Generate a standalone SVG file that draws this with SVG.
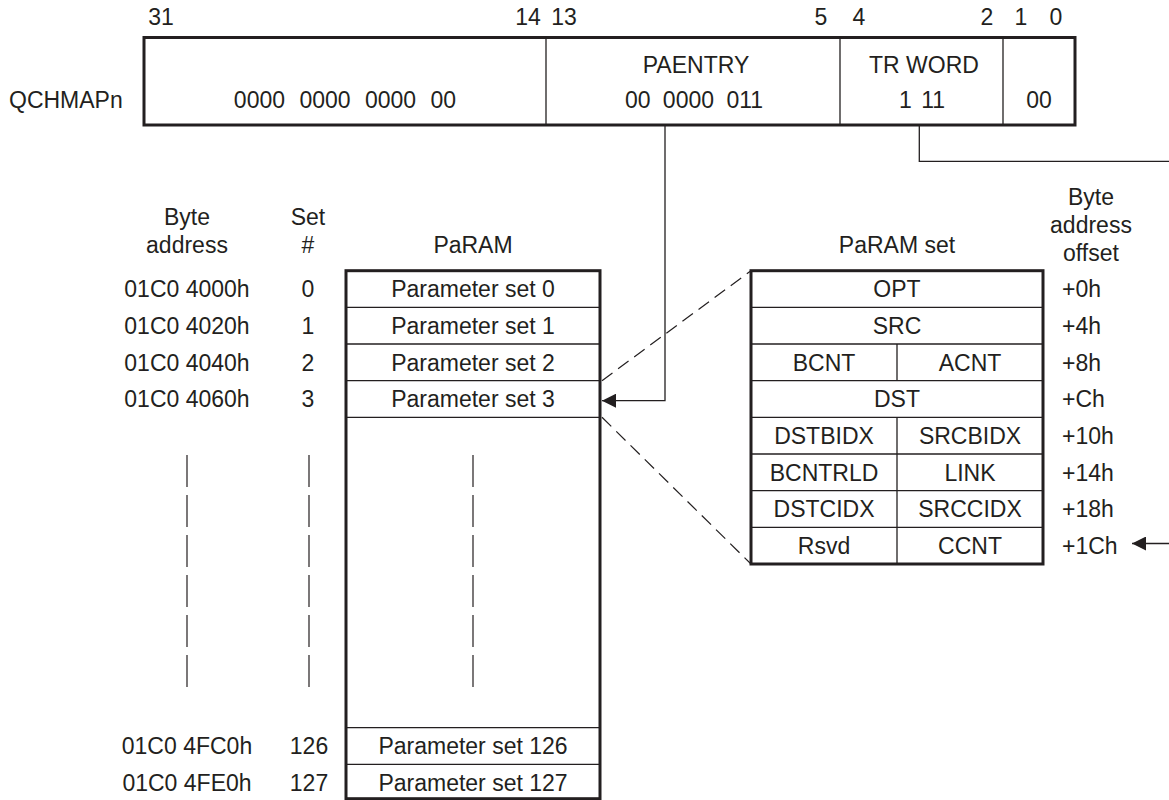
<svg xmlns="http://www.w3.org/2000/svg" width="1169" height="800" viewBox="0 0 1169 800">
<style>
text{font-family:"Liberation Sans",Arial,sans-serif;font-size:23px;fill:#231f20}
.c{text-anchor:middle}
.thick{fill:none;stroke:#231f20;stroke-width:3}
.thin{fill:none;stroke:#231f20;stroke-width:1.3}
.dash{fill:none;stroke:#231f20;stroke-width:1.2;stroke-dasharray:13 7}
.vdash{fill:none;stroke:#231f20;stroke-width:1.2;stroke-dasharray:32 8}
</style>
<defs>
<marker id="ah" viewBox="0 0 14 14" refX="14" refY="7" markerWidth="14" markerHeight="14" orient="auto" markerUnits="userSpaceOnUse"><path d="M0,0 L14,7 L0,14 z" fill="#231f20"/></marker>
</defs>
<rect width="1169" height="800" fill="#fff"/>

<g id="register">
<text x="161" y="25" class="c">31</text>
<text x="528" y="25" class="c">14</text>
<text x="564" y="25" class="c">13</text>
<text x="821" y="25" class="c">5</text>
<text x="859" y="25" class="c">4</text>
<text x="987" y="25" class="c">2</text>
<text x="1021" y="25" class="c">1</text>
<text x="1056" y="25" class="c">0</text>
<text x="9" y="108">QCHMAPn</text>
<rect x="144" y="37.5" width="931" height="87.5" class="thick"/>
<line x1="546" y1="37.5" x2="546" y2="125" class="thin"/>
<line x1="840" y1="37.5" x2="840" y2="125" class="thin"/>
<line x1="1003" y1="37.5" x2="1003" y2="125" class="thin"/>
<text x="345" y="108" class="c" word-spacing="8">0000 0000 0000 00</text>
<text x="696" y="73" class="c">PAENTRY</text>
<text x="694" y="108" class="c" word-spacing="6">00 0000 011</text>
<text x="924" y="73" class="c">TR WORD</text>
<text x="922" y="108" class="c" word-spacing="3">1 11</text>
<text x="1039" y="108" class="c">00</text>
</g>

<g id="headers">
<text x="187" y="225" class="c">Byte</text>
<text x="187" y="253" class="c">address</text>
<text x="308" y="225" class="c">Set</text>
<text x="308" y="253" class="c">#</text>
<text x="473" y="253" class="c">PaRAM</text>
<text x="897" y="253" class="c">PaRAM set</text>
<text x="1091" y="205" class="c">Byte</text>
<text x="1091" y="233" class="c">address</text>
<text x="1091" y="261" class="c">offset</text>
</g>

<g id="addresses">
<text x="187" y="297.3" class="c">01C0 4000h</text>
<text x="187" y="334" class="c">01C0 4020h</text>
<text x="187" y="370.7" class="c">01C0 4040h</text>
<text x="187" y="407.3" class="c">01C0 4060h</text>
<text x="187" y="754.3" class="c">01C0 4FC0h</text>
<text x="187" y="791" class="c">01C0 4FE0h</text>
<text x="308" y="297.3" class="c">0</text>
<text x="308" y="334" class="c">1</text>
<text x="308" y="370.7" class="c">2</text>
<text x="308" y="407.3" class="c">3</text>
<text x="309" y="754.3" class="c">126</text>
<text x="309" y="791" class="c">127</text>
<line x1="187" y1="455" x2="187" y2="687" class="vdash"/>
<line x1="309" y1="455" x2="309" y2="687" class="vdash"/>
</g>

<g id="param">
<rect x="346" y="270.7" width="254" height="528" class="thick"/>
<line x1="346" y1="307.3" x2="600" y2="307.3" class="thin"/>
<line x1="346" y1="344" x2="600" y2="344" class="thin"/>
<line x1="346" y1="380.7" x2="600" y2="380.7" class="thin"/>
<line x1="346" y1="417.3" x2="600" y2="417.3" class="thin"/>
<line x1="346" y1="727.7" x2="600" y2="727.7" class="thin"/>
<line x1="346" y1="764.3" x2="600" y2="764.3" class="thin"/>
<text x="473" y="297.3" class="c">Parameter set 0</text>
<text x="473" y="334" class="c">Parameter set 1</text>
<text x="473" y="370.7" class="c">Parameter set 2</text>
<text x="473" y="407.3" class="c">Parameter set 3</text>
<line x1="473" y1="455" x2="473" y2="687" class="vdash"/>
<text x="473" y="754.3" class="c">Parameter set 126</text>
<text x="473" y="791" class="c">Parameter set 127</text>
</g>

<g id="paramset">
<rect x="751" y="270.7" width="292" height="293.3" class="thick"/>
<line x1="751" y1="307.3" x2="1043" y2="307.3" class="thin"/>
<line x1="751" y1="344" x2="1043" y2="344" class="thin"/>
<line x1="751" y1="380.7" x2="1043" y2="380.7" class="thin"/>
<line x1="751" y1="417.3" x2="1043" y2="417.3" class="thin"/>
<line x1="751" y1="454" x2="1043" y2="454" class="thin"/>
<line x1="751" y1="490.7" x2="1043" y2="490.7" class="thin"/>
<line x1="751" y1="527.3" x2="1043" y2="527.3" class="thin"/>
<line x1="897" y1="344" x2="897" y2="380.7" class="thin"/>
<line x1="897" y1="417.3" x2="897" y2="564" class="thin"/>
<text x="897" y="297.3" class="c">OPT</text>
<text x="897" y="334" class="c">SRC</text>
<text x="824" y="370.7" class="c">BCNT</text>
<text x="970" y="370.7" class="c">ACNT</text>
<text x="897" y="407.3" class="c">DST</text>
<text x="824" y="444" class="c">DSTBIDX</text>
<text x="970" y="444" class="c">SRCBIDX</text>
<text x="824" y="480.7" class="c">BCNTRLD</text>
<text x="970" y="480.7" class="c">LINK</text>
<text x="824" y="517.3" class="c">DSTCIDX</text>
<text x="970" y="517.3" class="c">SRCCIDX</text>
<text x="824" y="554" class="c">Rsvd</text>
<text x="970" y="554" class="c">CCNT</text>
</g>

<g id="offsets">
<text x="1062" y="297.3">+0h</text>
<text x="1062" y="334">+4h</text>
<text x="1062" y="370.7">+8h</text>
<text x="1062" y="407.3">+Ch</text>
<text x="1062" y="444">+10h</text>
<text x="1062" y="480.7">+14h</text>
<text x="1062" y="517.3">+18h</text>
<text x="1062" y="554">+1Ch</text>
</g>

<g id="connectors">
<path d="M665,125 V400.7 H602" class="thin" marker-end="url(#ah)"/>
<path d="M919.3,125 V161.3 H1169" class="thin"/>
<path d="M1169,543.5 H1132" class="thin" marker-end="url(#ah)"/>
<path d="M602,380.7 L751,270.7" class="dash"/>
<path d="M602,417.3 L751,564" class="dash"/>
</g>
</svg>
